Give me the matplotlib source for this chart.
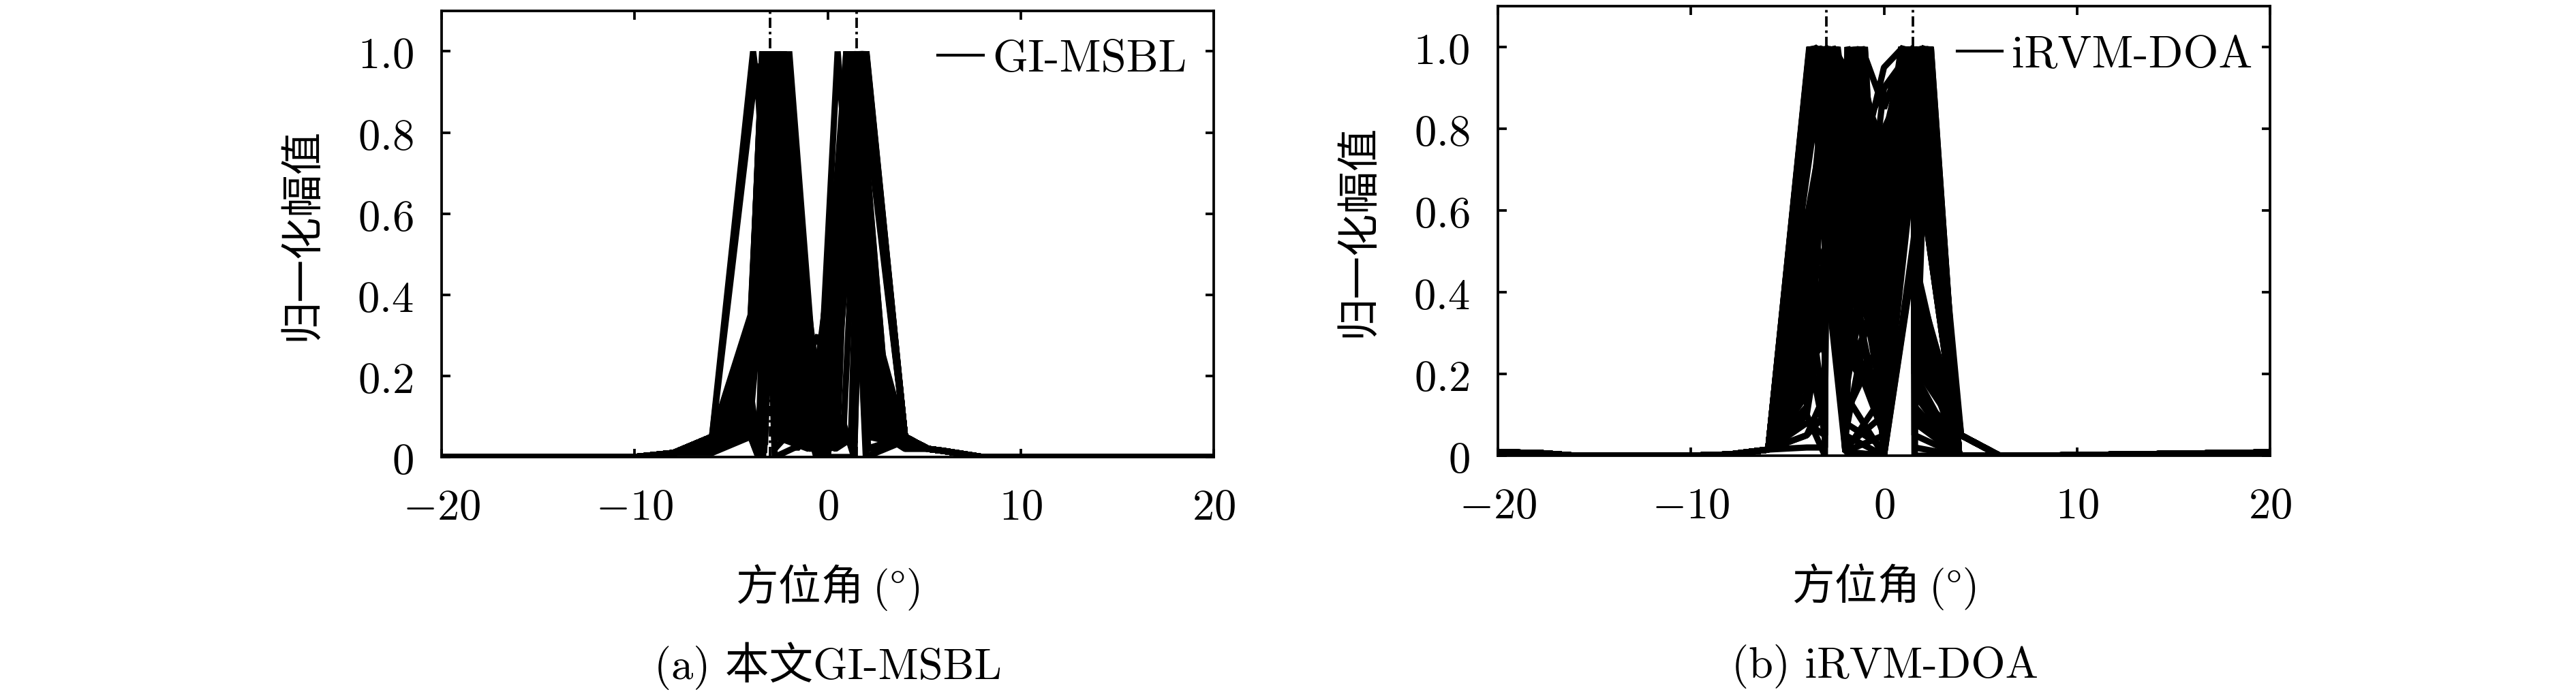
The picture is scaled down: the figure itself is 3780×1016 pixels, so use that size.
# ==========================================================
# Espectros normalizados de ensayos Monte Carlo:
# (a) GI-MSBL  vs  (b) iRVM-DOA
# ==========================================================

import matplotlib
matplotlib.use("Agg")
import matplotlib.pyplot as plt
from matplotlib.lines import Line2D

# ----------------------------------------------------------
# DATOS
# Direcciones verdaderas de las fuentes (grados)
# ----------------------------------------------------------
doa_verdaderas = [-3.0, 1.5]

# Colas comunes (zona lejos de las fuentes)
gi_cola_izq = [(-20, 0.0), (-10, 0.0), (-8, 0.01)]
gi_cola_der = [(5.2, 0.02), (6, 0.015), (8, 0.0), (20, 0.0)]

# Vértices centrales (ángulo, amplitud) de cada ensayo - GI-MSBL
gi_ensayos = [
    [(-6, .05), (-4, .30), (-3.40, 1), (-2.75, 0), (-0.50, .05), (0.30, .02), (1.00, 1), (2.00, 0), (4.0, .05)],
    [(-6, .04), (-4, .33), (-3.38, 1), (-2.70, .05), (-1.00, .02), (0.00, .10), (1.95, 1), (4.0, .05)],
    [(-6, .05), (-4, .25), (-3.35, 1), (-2.50, .20), (-0.45, .10), (0.96, 1), (2.10, .05), (4.0, .03)],
    [(-6, .03), (-4, .15), (-3.32, 1), (-2.20, .30), (-0.60, 0), (1.37, 0), (1.98, 1), (4.0, .05)],
    [(-6, .05), (-4, .20), (-3.30, 1), (-2.75, .02), (-1.20, .10), (0.00, .05), (1.05, 1), (1.97, 0), (4.0, .04)],
    [(-6, .02), (-4, .10), (-3.25, 1), (-2.00, .40), (-0.80, .05), (0.20, .10), (1.90, 1), (4.0, .05)],
    [(-6, .05), (-4, .30), (-3.20, 1), (-1.50, .05), (0.00, 0), (1.10, 1), (2.50, .10), (4.0, .03)],
    [(-6, .01), (-4, .05), (-3.60, 0), (-2.45, 1), (-1.20, .05), (-0.30, .15), (1.15, 1), (2.20, .10), (4.0, .05)],
    [(-6, .05), (-4, .28), (-3.12, 1), (-1.80, .15), (-0.40, .08), (1.20, 1), (2.00, .30), (4.0, .05)],
    [(-6, .03), (-4, .12), (-3.10, 1), (-2.60, .05), (-0.90, .02), (0.50, .05), (1.25, 1), (3.00, .05), (4.0, .02)],
    [(-6, .02), (-4, .05), (-3.60, 0), (-3.00, 1), (-2.00, .20), (-0.50, .10), (1.30, 1), (2.60, .05), (4.0, .05)],
    [(-6, .04), (-4, .20), (-2.95, 1), (-1.60, .25), (-0.30, .05), (1.35, 1), (2.00, .10), (4.0, .05)],
    [(-6, .02), (-4, .08), (-3.35, 0), (-2.90, 1), (-1.40, .05), (0.00, .12), (1.40, 1), (1.98, .05), (4.0, .04)],
    [(-6, .05), (-4, .32), (-2.85, 1), (-2.10, .40), (-0.45, .12), (1.45, 1), (2.40, .05), (4.0, .05)],
    [(-6, .03), (-4, .10), (-3.30, .02), (-2.80, 1), (-1.00, .10), (0.00, 0), (1.50, 1), (2.80, .10), (4.0, .05)],
    [(-6, .04), (-4, .18), (-2.75, 1), (-1.90, .10), (-0.60, .20), (1.55, 1), (3.10, .10), (4.0, .03)],
    [(-6, .02), (-4, .05), (-3.50, 0), (-2.70, 1), (-1.20, .30), (-0.20, .05), (1.60, 1), (2.00, .40), (4.0, .05)],
    [(-6, .05), (-4, .25), (-2.65, 1), (-2.20, .60), (-0.45, .05), (1.65, 1), (4.0, .05)],
    [(-6, .03), (-4, .15), (-2.60, 1), (-1.00, .15), (-0.20, .05), (1.70, 1), (4.0, .05)],
    [(-6, .05), (-4, .22), (-2.55, 1), (-1.70, .05), (-0.50, .15), (0.80, .05), (1.75, 1), (4.0, .05)],
    [(-6, .02), (-4, .06), (-3.40, .05), (-2.50, 1), (-1.50, .40), (-0.40, .02), (1.20, .05), (1.80, 1), (4.0, .05)],
    [(-6, .04), (-4, .12), (-2.45, 1), (-2.00, .70), (-0.80, .10), (0.00, .20), (1.85, 1), (4.0, .05)],
    [(-6, .03), (-4, .08), (-3.45, .02), (-2.40, 1), (-1.30, .05), (-0.45, .20), (1.90, 1), (4.0, .05)],
    [(-6, .05), (-4, .30), (-2.35, 1), (-0.90, .05), (0.40, .10), (1.30, .02), (2.00, 1), (4.0, .05)],
    [(-6, .02), (-4, .10), (-2.30, 1), (-1.20, .20), (-0.30, 0), (0.96, 1), (2.30, .05), (4.0, .05)],
    [(-6, .05), (-3.87, 1), (-2.00, .30), (-0.50, .05), (1.00, 1), (2.00, .05), (4.0, .04)],
    [(-6, .05), (-3.70, .97), (-2.60, .10), (-0.40, .10), (1.10, 1), (2.20, .20), (4.0, .05)],
    [(-6, .03), (-4, .10), (-3.30, .05), (-2.28, 1), (-1.00, .30), (-0.45, .05), (1.60, 1), (4.0, .05)],
    [(-6, .02), (-4, .05), (-3.50, .02), (-2.00, 1), (-0.50, .08), (0.51, 1), (2.10, .02), (4.0, .05)],
    [(-6, .04), (-4, .20), (-3.28, 1), (-2.40, .15), (-1.00, .05), (0.20, .30), (1.30, 1), (2.00, .02), (4.0, .05)],
    [(-6, .05), (-4, .26), (-3.36, 1), (-2.75, .10), (-1.60, .02), (-0.35, .10), (1.58, 1), (2.40, .30), (4.0, .05)],
    [(-6, .03), (-4, .14), (-3.18, 1), (-2.10, .05), (-0.70, .25), (0.10, .05), (1.88, 1), (4.0, .05)],
    [(-6, .02), (-4, .09), (-3.25, .03), (-2.62, 1), (-1.40, .10), (0.00, .08), (1.02, 1), (2.05, .10), (4.0, .04)],
    [(-6, .05), (-4, .35), (-3.34, 1), (-2.80, .30), (-1.80, .05), (-0.45, .02), (0.30, .10), (1.93, 1), (4.0, .05)],
    [(-6, .04), (-4, .18), (-2.88, 1), (-2.30, .05), (-0.80, .05), (0.40, .02), (1.37, .05), (1.78, 1), (4.0, .05)],
    [(-6, .03), (-4, .11), (-3.08, 1), (-2.75, .05), (-1.10, .05), (-0.40, .25), (1.12, 1), (1.97, .05), (4.0, .05)],
    [(-6, .05), (-4, .31), (-3.39, 1), (-2.72, .08), (-1.40, .15), (-0.45, .03), (0.98, 1), (2.05, .08), (4.0, .05)],
    [(-6, .04), (-4, .27), (-3.33, 1), (-2.40, .35), (-0.70, .10), (0.10, .20), (1.62, 1), (2.60, .20), (4.0, .05)],
    [(-6, .03), (-4, .16), (-3.55, .01), (-2.68, 1), (-1.60, .50), (-0.45, .08), (1.08, 1), (2.15, .15), (4.0, .05)],
    [(-6, .05), (-4, .29), (-3.27, 1), (-2.30, .50), (-1.00, .20), (0.00, .02), (1.28, 1), (2.70, .12), (4.0, .05)],
    [(-6, .02), (-4, .07), (-3.40, .03), (-2.58, 1), (-1.10, .40), (-0.30, .10), (1.68, 1), (4.0, .05)],
    [(-6, .04), (-4, .21), (-3.22, 1), (-2.20, .15), (-0.50, .30), (0.60, .05), (1.36, .03), (1.96, 1), (4.0, .05)],
    [(-6, .03), (-4, .13), (-2.98, 1), (-2.00, .55), (-0.60, .02), (0.40, .15), (1.48, 1), (2.90, .05), (4.0, .04)],
    [(-6, .05), (-4, .24), (-2.52, 1), (-1.30, .25), (-0.45, .10), (1.82, 1), (4.0, .05)],
    [(-6, .02), (-4, .09), (-3.45, 0), (-2.42, 1), (-1.80, .30), (-0.40, .15), (1.18, 1), (2.00, .15), (4.0, .05)],
    [(-6, .05), (-4, .34), (-3.31, 1), (-2.60, .15), (-1.20, .08), (-0.20, .30), (1.52, 1), (3.20, .05), (4.0, .03)],
    [(-6, .03), (-4, .17), (-2.78, 1), (-1.50, .20), (-0.45, .06), (1.72, 1), (4.0, .05)],
    [(-6, .04), (-4, .23), (-3.14, 1), (-2.50, .30), (-0.80, .15), (0.20, .05), (1.92, 1), (4.0, .05)],
    [(-6, .02), (-4, .11), (-3.30, .01), (-2.33, 1), (-0.95, .12), (0.00, .25), (1.42, 1), (2.30, .10), (4.0, .05)],
    [(-6, .05), (-4, .28), (-3.37, 1), (-2.10, .20), (-0.60, .05), (0.70, .10), (1.36, 0), (1.99, 1), (4.0, .05)],
]

# Colas comunes - iRVM-DOA
rvm_cola_izq = [(-20, 0.008), (-18, 0.007), (-16, 0.0), (-10, 0.0), (-8, 0.003)]
rvm_cola_der = [(6, 0.0), (8, 0.0), (14, 0.004), (20, 0.008)]

# Vértices centrales de cada ensayo - iRVM-DOA
rvm_ensayos = [
    [(-6, .015), (-3.87, 1), (-2, .02), (0, .10), (0.92, 1), (3.9, 0)],
    [(-6, .015), (-3.80, 1), (-2, .30), (0, .05), (1.20, 1), (3.9, 0)],
    [(-6, .015), (-3.70, 1), (-2, .01), (-1.40, 1), (0, 0), (0.90, 1), (3.9, 0)],
    [(-6, .015), (-3.60, 1), (-2, .50), (-1.00, 1), (0, 0), (1.00, 1), (3.9, 0)],
    [(-6, .015), (-3.50, 1), (-2, .10), (0, .30), (2.40, 1), (3.9, 0)],
    [(-6, .015), (-3.40, 1), (-2, .05), (-1.20, 1), (0, .20), (1.56, 1), (1.60, .15), (4, .05)],
    [(-6, .015), (-3.30, 1), (-2, .40), (-1.60, 1), (0, .50), (2.00, 1), (3.9, 0)],
    [(-6, .015), (-3.22, 1), (-2, .01), (0, 0), (0.95, 1), (3.9, 0)],
    [(-6, .015), (-4, .10), (-3.06, 0), (-2.95, 1), (-2, .60), (-1.10, 1), (0, 0), (1.10, 1), (3.9, 0)],
    [(-6, .015), (-4, .20), (-3.06, .48), (-2, .01), (-1.30, 1), (0, .10), (1.30, 1), (3.9, 0)],
    [(-6, .015), (-4, .23), (-3.06, .30), (-2.98, 1), (-2, .20), (0, .60), (1.80, 1), (3.9, 0)],
    [(-6, .015), (-4, .05), (-3.06, .15), (-2.90, 1), (-2, .02), (-1.50, 1), (0, .30), (2.20, 1), (3.9, 0)],
    [(-6, .015), (-4, .45), (-2.80, 1), (-2, .70), (0, .40), (1.60, 1), (4, .05)],
    [(-6, .015), (-4, .12), (-2.70, 1), (-2, .35), (0, .05), (1.00, 1), (3.9, 0)],
    [(-6, .015), (-4, .30), (-2.60, 1), (-2, .15), (0, 0), (1.54, 1), (1.58, .05), (2.30, 1), (3.9, 0)],
    [(-6, .015), (-4, .35), (-2.50, 1), (-1.80, .70), (0, .25), (2.30, 1), (3.9, 0)],
    [(-6, .015), (-3.10, 1), (-2, .25), (-1.35, 1), (0, .45), (1.90, 1), (3.9, 0)],
    [(-6, .015), (-3.05, 1), (-2, .01), (0, .15), (1.05, 1), (3.9, 0)],
    [(-6, .015), (-3.65, 1), (-2, .20), (-0.99, 1), (0, .05), (0.95, 1), (3.9, 0)],
    [(-6, .015), (-3.35, 1), (-2, .60), (-1.16, 1), (0, .85), (1.15, 1), (3.9, 0)],
    [(-6, .015), (-3.75, 1), (-2, .45), (0, .35), (2.10, 1), (4, .05)],
    [(-6, .015), (-3.45, 1), (-2, .15), (-1.70, 1), (0, 0), (1.60, .50), (2.43, 1), (3.9, 0)],
    [(-6, .015), (-3.25, 1), (-2, .05), (0, .55), (0.90, 1), (3.9, 0)],
    [(-6, .015), (-4, .55), (-2.55, 1), (-2, .50), (-1.05, .90), (0, .30), (1.25, 1), (3.9, 0)],
    [(-6, .015), (-4, .18), (-3.06, .40), (-2.96, 1), (-2, .05), (0, 0), (1.60, .55), (2.30, 1), (3.9, 0)],
    [(-6, .015), (-3.55, 1), (-2, .70), (0, .20), (1.55, 1), (1.60, .30), (4, .05)],
    [(-6, .015), (-3.15, 1), (-2, .10), (-1.45, 1), (0, .65), (2.00, 1), (3.9, 0)],
    [(-6, .015), (-4, .25), (-2.75, 1), (-2, .25), (0, .10), (1.54, 1), (1.58, .20), (2.10, 1), (3.9, 0)],
    [(-6, .015), (-4, .08), (-3.06, .05), (-2.92, 1), (-2, .90), (-1.25, 1), (0, .40), (1.35, 1), (3.9, 0)],
    [(-6, .015), (-3.80, 1), (-2, .55), (0, .95), (1.00, 1), (3.9, 0)],
    [(-6, .015), (-3.28, 1), (-2, .35), (-1.90, 1), (0, .75), (2.35, 1), (3.9, 0)],
    [(-6, .015), (-3.62, 1), (-2, .01), (0, .05), (1.54, .95), (1.58, .35), (4, .05)],
    [(-6, .015), (-4, .40), (-2.45, 1), (-1.60, .60), (-0.99, 1), (0, .15), (0.98, 1), (3.9, 0)],
    [(-6, .015), (-4, .15), (-3.06, .20), (-2.99, 1), (-2, .45), (0, .25), (2.15, 1), (3.9, 0)],
    [(-6, .015), (-3.45, 1), (-2, .08), (0, .02), (1.53, 1), (1.58, 0), (1.90, 1), (3.9, 0)],
    [(-6, .015), (-3.18, 1), (-2, .65), (-1.10, 1), (0, 0), (1.57, .50), (2.05, 1), (3.9, 0)],
    [(-6, .015), (-4, .60), (-3.06, .45), (-3.00, 1), (-2, .75), (0, .55), (1.54, 1), (1.60, .40), (3.9, 0)],
    [(-6, .015), (-4, .05), (-3.06, .10), (-3.02, 1), (-2, .85), (-1.20, .95), (0, .70), (1.80, 1), (3.9, 0)],
    [(-6, .015), (-3.85, 1), (-2, .75), (0, .50), (2.40, 1), (3.9, 0)],
    [(-6, .015), (-4, .38), (-3.06, .25), (-3.03, 1), (-2, .30), (0, .20), (1.54, 1), (1.60, .25), (4, .05)],
    [(-6, .015), (-3.78, 1), (-2, .85), (0, .30), (1.54, 1), (1.60, .10), (3.9, 0)],
    [(-6, .015), (-4, .28), (-3.06, .05), (-3.01, 1), (-2, .40), (0, .65), (2.25, 1), (3.9, 0)],
    [(-6, .015), (-3.68, 1), (-2, .65), (0, .10), (1.54, 1), (1.60, .45), (3.9, 0)],
    [(-6, .015), (-4, .50), (-2.65, 1), (-2, .95), (0, .60), (1.54, 1), (1.60, .20), (3.9, 0)],
    [(-6, .015), (-3.58, 1), (-2, .40), (0, .80), (2.00, 1), (3.9, 0)],
    [(-6, .015), (-4, .32), (-3.06, .35), (-3.04, 1), (-2, .55), (0, .40), (1.54, 1), (1.60, .35), (4, .05)],
    [(-6, .015), (-3.48, 1), (-2, .30), (0, .10), (1.54, 1), (1.60, .05), (3.9, 0)],
    [(-6, .015), (-4, .15), (-2.85, 1), (-2, .80), (0, .45), (2.20, 1), (3.9, 0)],
    [(-6, .015), (-3.38, 1), (-2, .90), (0, .20), (1.54, 1), (1.60, .40), (4, .05)],
    [(-6, .015), (-4, .42), (-3.06, .10), (-3.00, 1), (-2, .60), (0, .35), (2.43, 1), (3.9, 0)],
    [(-6, .015), (-3.20, 1), (-2, .50), (0, .25), (1.54, 1), (1.60, .30), (3.9, 0)],
    [(-6, .015), (-4, .22), (-3.06, .28), (-3.02, 1), (-2, .15), (0, .70), (1.54, 1), (1.60, .15), (3.9, 0)],
    [(-6, .015), (-3.82, 1), (-2, .35), (0, .60), (2.30, 1), (3.9, 0)],
    [(-6, .015), (-4, .58), (-2.40, 1), (-2, .85), (0, .15), (1.54, 1), (1.60, .45), (4, .05)],
    [(-6, .015), (-3.72, 1), (-2, .60), (0, .45), (1.54, 1), (1.60, 0), (3.9, 0)],
    [(-6, .015), (-4, .10), (-3.06, .38), (-3.01, 1), (-2, .70), (0, .90), (2.10, 1), (3.9, 0)],
    [(-6, .015), (-3.52, 1), (-2, .20), (0, .40), (1.54, 1), (1.60, .22), (4, .05)],
    [(-6, .015), (-4, .48), (-2.90, 1), (-2, .45), (0, .30), (1.85, 1), (3.9, 0)],
    [(-6, .015), (-3.42, 1), (-2, .80), (0, .10), (1.54, 1), (1.60, .12), (3.9, 0)],
    [(-6, .015), (-4, .20), (-3.06, .18), (-3.04, 1), (-2, .95), (0, .55), (2.35, 1), (3.9, 0)],
    [(-6, .015), (-3.32, 1), (-2, .65), (0, .75), (1.54, 1), (1.60, .38), (3.9, 0)],
    [(-6, .015), (-4, .36), (-2.58, 1), (-2, .30), (0, .50), (1.54, 1), (1.60, .28), (4, .05)],
    [(-6, .015), (-3.90, .98), (-2, .70), (0, .35), (1.95, 1), (3.9, 0)],
    [(-6, .015), (-4, .02), (-3.06, .02), (-3.00, 1), (-2, .50), (0, .05), (1.54, 1), (1.60, .48), (3.9, 0)],
    [(-6, .015), (-3.60, 1), (-2, .95), (0, .40), (1.54, 1), (1.60, .08), (3.9, 0)],
    [(-6, .015), (-4, .52), (-3.06, .42), (-3.03, 1), (-2, .25), (0, .15), (2.40, 1), (3.9, 0)],
    [(-6, .015), (-3.75, 1), (-1.40, .55), (0, .35), (1.54, 1), (1.60, .18), (3.9, 0)],
    [(-6, .015), (-3.50, 1), (-1.00, .40), (0, .70), (1.20, 1), (3.9, 0)],
    [(-6, .015), (-3.30, 1), (-1.20, .75), (0, .25), (2.00, 1), (3.9, 0)],
    [(-6, .015), (-3.65, 1), (-2, .40), (-0.50, .55), (0.90, 1), (3.9, 0)],
    [(-6, .015), (-3.10, 1), (-1.50, .80), (-0.40, .35), (1.54, 1), (1.60, .32), (4, .05)],
    [(-6, .015), (-3.85, 1), (-2, .60), (-0.80, .20), (0, .05), (2.20, 1), (3.9, 0)],
    [(-6, .015), (-4, .44), (-2.70, 1), (-1.50, .45), (-0.60, .65), (1.10, 1), (3.9, 0)],
    [(-6, .015), (-3.40, 1), (-1.70, .30), (0, .50), (1.54, 1), (1.60, .42), (3.9, 0)],
    [(-6, .015), (-4, .30), (-3.06, .32), (-3.02, 1), (-1.80, .55), (-0.70, .85), (0, .45), (2.40, 1), (3.9, 0)],
    [(-6, .015), (-3.58, 1), (-1.30, .65), (0, .15), (0.95, 1), (3.9, 0)],
    [(-6, .015), (-3.22, 1), (-2, .75), (-1.00, .50), (0, .90), (1.54, 1), (1.60, .02), (3.9, 0)],
    [(-6, .015), (-3.70, 1), (-1.60, .40), (-0.50, .15), (1.30, 1), (3.9, 0)],
    [(-6, .015), (-4, .26), (-2.50, 1), (-1.20, .35), (0, .60), (2.30, 1), (3.9, 0)],
    [(-6, .015), (-3.45, 1), (-2, .45), (-1.00, .70), (0, .20), (1.54, 1), (1.60, .10), (4, .05)],
]

# Ejes y etiquetas
x_ticks = [-20, -10, 0, 10, 20]
x_etiquetas = [r"$-20$", r"$-10$", r"$0$", r"$10$", r"$20$"]
y_ticks = [0, 0.2, 0.4, 0.6, 0.8, 1.0]
y_etiquetas = [r"$0$", r"$0.2$", r"$0.4$", r"$0.6$", r"$0.8$", r"$1.0$"]

# ----------------------------------------------------------
# GRÁFICO
# ----------------------------------------------------------
plt.rcParams["mathtext.fontset"] = "cm"

figura = plt.figure(figsize=(12.6, 3.3867), dpi=300)
eje_a = figura.add_axes([0.1715, 0.3396, 0.2997, 0.6447])
eje_b = figura.add_axes([0.5815, 0.3415, 0.2997, 0.6496])

paneles = [
    (eje_a, gi_ensayos, gi_cola_izq, gi_cola_der, "GI-MSBL", 0.965, "(a) 本文GI-MSBL", 0.3214),
    (eje_b, rvm_ensayos, rvm_cola_izq, rvm_cola_der, "iRVM-DOA", 0.977, "(b) iRVM-DOA", 0.7317),
]

for eje, ensayos, cola_izq, cola_der, nombre, x_ley, subtitulo, x_sub in paneles:
    # líneas de las direcciones verdaderas (debajo de las curvas)
    for doa in doa_verdaderas:
        eje.axvline(doa, color="k", lw=0.9, ls=(0, (4, 1.5, 1, 1.5)), zorder=1)

    for ensayo in ensayos:
        angulos, amplitudes = zip(*(cola_izq + ensayo + cola_der))
        eje.plot(angulos, amplitudes, color="k", lw=2.2,
                 solid_joinstyle="bevel", zorder=2)

    eje.set_xlim(-20, 20)
    eje.set_ylim(0, 1.1)
    eje.set_xticks(x_ticks)
    eje.set_xticklabels(x_etiquetas)
    eje.set_yticks(y_ticks)
    eje.set_yticklabels(y_etiquetas)
    eje.tick_params(direction="in", top=True, right=True, length=3,
                    width=0.9, labelsize=15.5)
    eje.tick_params(axis="x", pad=10)
    eje.tick_params(axis="y", pad=10)
    for spine in eje.spines.values():
        spine.set_linewidth(0.9)

    eje.set_ylabel("归一化幅值", family="Noto Sans CJK SC", fontsize=15, va="center")
    eje.yaxis.set_label_coords(-0.182, 0.5)
    eje.set_xlabel(r"方位角 $(\degree)$", family="Noto Sans CJK SC", fontsize=15, va="center")
    eje.xaxis.set_label_coords(0.5, -0.292)

    manija = Line2D([], [], color="k", lw=1.0)
    eje.legend([manija], [nombre], loc="center right", bbox_to_anchor=(x_ley, 0.89),
               frameon=False, borderpad=0, borderaxespad=0, handlelength=1.0,
               handletextpad=0.2, prop={"family": "cmr10", "size": 16})

    figura.text(x_sub, 0.0374, subtitulo, ha="center", va="center", fontsize=15.5,
                family=["cmr10", "Noto Sans CJK SC"])

figura.savefig("out.png", dpi=300)
